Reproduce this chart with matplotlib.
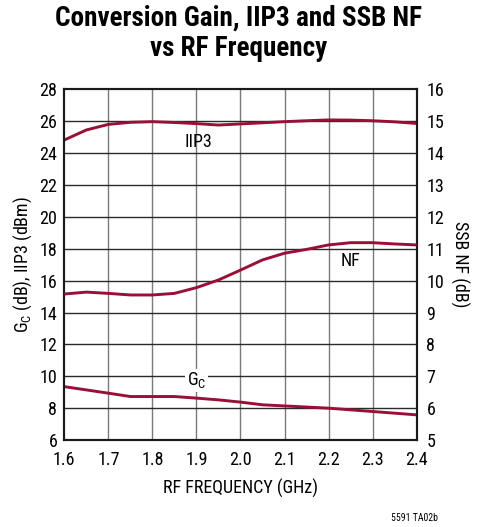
import numpy as np
import matplotlib
matplotlib.use('Agg')
import matplotlib.pyplot as plt

fam = ['Roboto Condensed', 'DejaVu Sans']
plt.rcParams['font.family'] = fam
plt.rcParams['mathtext.fontset'] = 'custom'
plt.rcParams['mathtext.rm'] = 'Roboto Condensed'
plt.rcParams['mathtext.it'] = 'Roboto Condensed'
plt.rcParams['mathtext.default'] = 'regular'

# data
iip3_f = [1.6, 1.65, 1.7, 1.75, 1.8, 1.85, 1.9, 1.95, 2.0, 2.05, 2.1, 2.15, 2.2, 2.25, 2.3, 2.35, 2.4]
iip3 = [24.82, 25.45, 25.8, 25.93, 25.97, 25.92, 25.85, 25.76, 25.83, 25.9, 25.97, 26.03, 26.08, 26.07, 26.03, 25.96, 25.86]

nf_f = [1.6, 1.65, 1.7, 1.75, 1.8, 1.85, 1.9, 1.95, 2.0, 2.05, 2.1, 2.15, 2.2, 2.25, 2.3, 2.35, 2.4]
nf = [9.58, 9.64, 9.6, 9.55, 9.55, 9.6, 9.78, 10.02, 10.33, 10.65, 10.86, 10.98, 11.12, 11.19, 11.19, 11.15, 11.12]

gc_f = [1.6, 1.7, 1.75, 1.8, 1.85, 1.9, 1.95, 2.0, 2.05, 2.1, 2.2, 2.3, 2.4]
gc = [9.35, 8.94, 8.73, 8.73, 8.73, 8.63, 8.52, 8.38, 8.21, 8.14, 8.0, 7.79, 7.58]

xticks = [1.6, 1.7, 1.8, 1.9, 2.0, 2.1, 2.2, 2.3, 2.4]
xtick_labels = ['1.6', '1.7', '1.8', '1.9', '2.0', '2.1', '2.2', '2.3', '2.4']
left_ticks = list(range(6, 29, 2))
right_ticks = list(range(5, 17))

red = '#9a0f36'

fig = plt.figure(figsize=(4.87, 5.27), dpi=100)
ax = fig.add_axes([0.132, 0.165, 0.7236, 0.6655])
ax2 = ax.twinx()

ax.set_xlim(1.6, 2.4)
ax.set_ylim(6, 28)
ax2.set_ylim(5, 16)
ax.set_xticks(xticks)
ax.set_xticklabels(xtick_labels)
ax.set_yticks(left_ticks)
ax2.set_yticks(right_ticks)

for x in xticks[1:-1]:
    ax.axvline(x, color='#7a7a7a', lw=1.0, zorder=1)
for y in left_ticks[1:-1]:
    ax.axhline(y, color='#2a2a2a', lw=1.0, zorder=1)

ax.tick_params(axis='x', length=0, labelsize=13, pad=8)
ax.tick_params(axis='y', length=0, labelsize=13, pad=5)
ax2.tick_params(length=0, labelsize=13, pad=7)
for a in (ax, ax2):
    for s in a.spines.values():
        s.set_linewidth(1.5)
        s.set_color('#1a1a1a')

ax.plot(iip3_f, iip3, color=red, lw=2.1, zorder=3, solid_capstyle='butt')
ax.plot(gc_f, gc, color=red, lw=2.1, zorder=3, solid_capstyle='butt')
ax2.plot(nf_f, nf, color=red, lw=2.1, zorder=3, solid_capstyle='butt')

ax.text(1.904, 24.7, 'IIP3', fontsize=13, ha='center', va='center', zorder=4)
ax.text(2.25, 17.2, 'NF', fontsize=13, ha='center', va='center', zorder=4)
ax.text(1.90, 9.75, 'G$_C$', fontsize=13, ha='center', va='center', zorder=4,
        bbox=dict(facecolor='white', edgecolor='none', pad=1))

ax.set_xlabel('RF FREQUENCY (GHz)', fontsize=13, labelpad=7)
ax.set_ylabel('G$_C$ (dB), IIP3 (dBm)', fontsize=13, labelpad=4)
ax2.set_ylabel('SSB NF (dB)', fontsize=13, rotation=-90, labelpad=18)

fig.text(0.49, 0.937, 'Conversion Gain, IIP3 and SSB NF\nvs RF Frequency',
         ha='center', va='center', fontsize=19.5, fontweight='bold', linespacing=1.15)
fig.text(0.85, 0.017, '5591 TA02b', ha='center', va='center', fontsize=7)

fig.savefig('out.png', dpi=100)
